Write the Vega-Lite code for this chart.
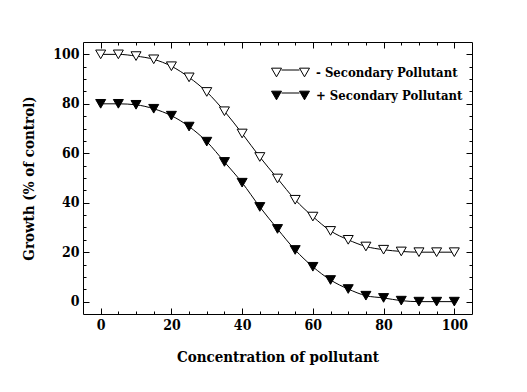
{
  "$schema": "https://vega.github.io/schema/vega-lite/v6.json",
  "width": 389,
  "height": 272,
  "autosize": {"type": "none"},
  "padding": {"left": 83, "top": 42, "right": 55, "bottom": 78},
  "background": "white",
  "config": {
    "view": {"stroke": null},
    "axis": {
      "grid": false,
      "domain": true,
      "domainColor": "black",
      "domainWidth": 1,
      "labelFont": "DejaVu Serif Condensed",
      "labelFontWeight": "bold",
      "labelFontSize": 14,
      "labelColor": "black",
      "titleFont": "DejaVu Serif Condensed",
      "titleFontWeight": "bold",
      "titleFontSize": 15,
      "titleColor": "black",
      "tickColor": "black",
      "tickWidth": 1
    },
    "legend": {
      "labelFont": "DejaVu Serif Condensed",
      "labelFontWeight": "bold",
      "labelFontSize": 13,
      "labelColor": "black"
    }
  },
  "data": {
    "values": [
      {"c": 0, "g": 100, "s": "- Secondary Pollutant"},
      {"c": 5, "g": 100, "s": "- Secondary Pollutant"},
      {"c": 10, "g": 99.3, "s": "- Secondary Pollutant"},
      {"c": 15, "g": 98, "s": "- Secondary Pollutant"},
      {"c": 20, "g": 95.2, "s": "- Secondary Pollutant"},
      {"c": 25, "g": 90.7, "s": "- Secondary Pollutant"},
      {"c": 30, "g": 84.8, "s": "- Secondary Pollutant"},
      {"c": 35, "g": 77, "s": "- Secondary Pollutant"},
      {"c": 40, "g": 68, "s": "- Secondary Pollutant"},
      {"c": 45, "g": 58.5, "s": "- Secondary Pollutant"},
      {"c": 50, "g": 49.8, "s": "- Secondary Pollutant"},
      {"c": 55, "g": 41.2, "s": "- Secondary Pollutant"},
      {"c": 60, "g": 34.4, "s": "- Secondary Pollutant"},
      {"c": 65, "g": 28.6, "s": "- Secondary Pollutant"},
      {"c": 70, "g": 25, "s": "- Secondary Pollutant"},
      {"c": 75, "g": 22.3, "s": "- Secondary Pollutant"},
      {"c": 80, "g": 21, "s": "- Secondary Pollutant"},
      {"c": 85, "g": 20.3, "s": "- Secondary Pollutant"},
      {"c": 90, "g": 20, "s": "- Secondary Pollutant"},
      {"c": 95, "g": 20, "s": "- Secondary Pollutant"},
      {"c": 100, "g": 20, "s": "- Secondary Pollutant"},
      {"c": 0, "g": 80, "s": "+ Secondary Pollutant"},
      {"c": 5, "g": 80, "s": "+ Secondary Pollutant"},
      {"c": 10, "g": 79.6, "s": "+ Secondary Pollutant"},
      {"c": 15, "g": 78, "s": "+ Secondary Pollutant"},
      {"c": 20, "g": 75.2, "s": "+ Secondary Pollutant"},
      {"c": 25, "g": 70.8, "s": "+ Secondary Pollutant"},
      {"c": 30, "g": 64.7, "s": "+ Secondary Pollutant"},
      {"c": 35, "g": 56.5, "s": "+ Secondary Pollutant"},
      {"c": 40, "g": 48.1, "s": "+ Secondary Pollutant"},
      {"c": 45, "g": 38.3, "s": "+ Secondary Pollutant"},
      {"c": 50, "g": 29.4, "s": "+ Secondary Pollutant"},
      {"c": 55, "g": 20.9, "s": "+ Secondary Pollutant"},
      {"c": 60, "g": 14.1, "s": "+ Secondary Pollutant"},
      {"c": 65, "g": 8.75, "s": "+ Secondary Pollutant"},
      {"c": 70, "g": 5.1, "s": "+ Secondary Pollutant"},
      {"c": 75, "g": 2.4, "s": "+ Secondary Pollutant"},
      {"c": 80, "g": 1.5, "s": "+ Secondary Pollutant"},
      {"c": 85, "g": 0.4, "s": "+ Secondary Pollutant"},
      {"c": 90, "g": 0, "s": "+ Secondary Pollutant"},
      {"c": 95, "g": 0, "s": "+ Secondary Pollutant"},
      {"c": 100, "g": 0, "s": "+ Secondary Pollutant"}
    ]
  },
  "layer": [
    {
      "mark": {"type": "line", "color": "black", "strokeWidth": 1, "interpolate": "monotone"},
      "encoding": {
        "x": {
          "field": "c", "type": "quantitative",
          "scale": {"domain": [-5, 105], "nice": false, "zero": false},
          "axis": {
            "orient": "bottom",
            "title": "Concentration of pollutant",
            "values": [0,5,10,15,20,25,30,35,40,45,50,55,60,65,70,75,80,85,90,95,100],
            "tickSize": {"condition": {"test": "datum.value % 20 === 0", "value": -6}, "value": -3},
            "labelExpr": "datum.value % 20 === 0 ? datum.label : ''",
            "labelPadding": 10,
            "titlePadding": 17
          }
        },
        "y": {
          "field": "g", "type": "quantitative",
          "scale": {"domain": [-5, 105], "nice": false, "zero": false},
          "axis": {
            "orient": "left",
            "title": "Growth (% of control)",
            "values": [0,5,10,15,20,25,30,35,40,45,50,55,60,65,70,75,80,85,90,95,100],
            "tickSize": {"condition": {"test": "datum.value % 20 === 0", "value": -6}, "value": -3},
            "labelExpr": "datum.value % 20 === 0 ? datum.label : ''",
            "labelPadding": 10,
            "titlePadding": 16
          }
        },
        "detail": {"field": "s"}
      }
    },
    {
      "mark": {"type": "point", "shape": "triangle-down", "size": 100, "filled": true, "opacity": 1, "stroke": "black", "strokeWidth": 1},
      "encoding": {
        "x": {
          "field": "c", "type": "quantitative",
          "axis": {
            "orient": "top",
            "title": null,
            "labels": false,
            "values": [0,5,10,15,20,25,30,35,40,45,50,55,60,65,70,75,80,85,90,95,100],
            "tickSize": {"condition": {"test": "datum.value % 20 === 0", "value": -6}, "value": -3}
          }
        },
        "y": {
          "field": "g", "type": "quantitative",
          "axis": {
            "orient": "right",
            "title": null,
            "labels": false,
            "values": [0,5,10,15,20,25,30,35,40,45,50,55,60,65,70,75,80,85,90,95,100],
            "tickSize": {"condition": {"test": "datum.value % 20 === 0", "value": -6}, "value": -3}
          }
        },
        "fill": {
          "field": "s", "type": "nominal",
          "scale": {"domain": ["- Secondary Pollutant", "+ Secondary Pollutant"], "range": ["white", "black"]},
          "legend": {
            "title": null,
            "orient": "none",
            "legendX": 201,
            "legendY": 24,
            "padding": 0,
            "symbolType": "M-3.8,-0.866L-1.8,-0.866L-2.8,0.866Z M-1.8,-0.5L1.8,-0.5 M1.8,-0.866L3.8,-0.866L2.8,0.866Z",
            "symbolSize": 100,
            "symbolStrokeColor": "black",
            "symbolStrokeWidth": 1,
            "symbolOpacity": 1,
            "labelOffset": 19,
            "rowPadding": 9
          }
        }
      }
    }
  ]
}
